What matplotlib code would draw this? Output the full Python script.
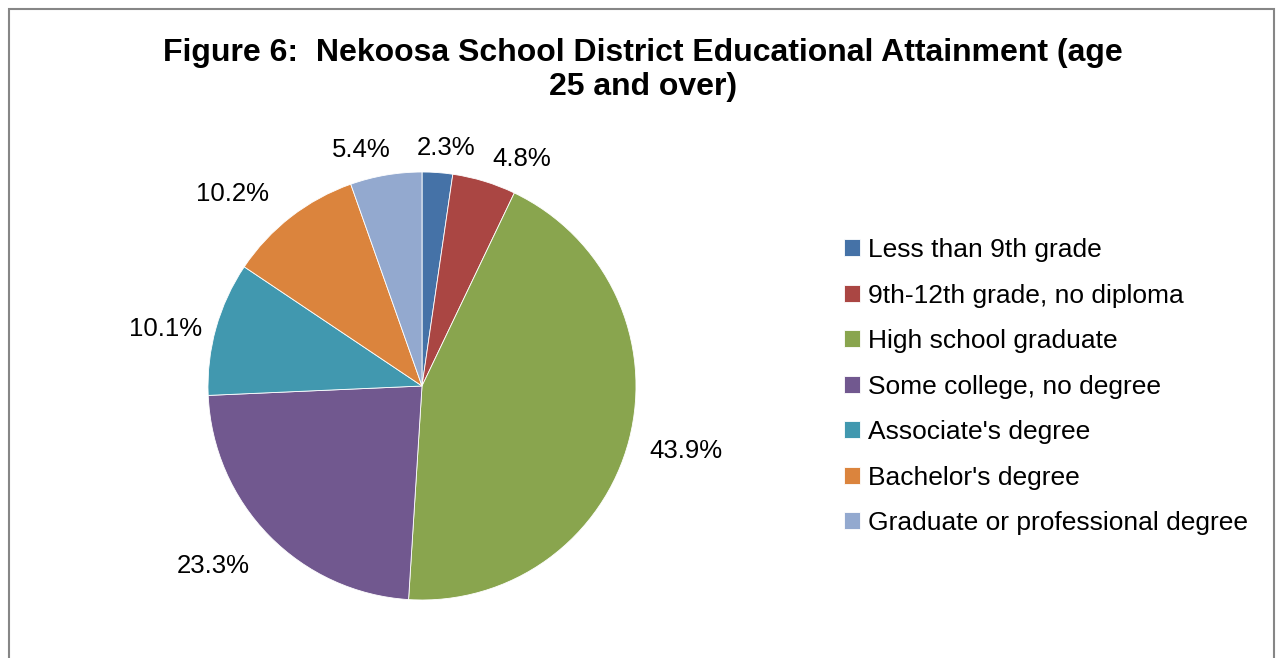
import numpy as np
import matplotlib
matplotlib.use("Agg")
import matplotlib.pyplot as plt
from matplotlib.patches import Rectangle

plt.rcParams['font.family'] = ['Liberation Sans', 'DejaVu Sans']

# Data
categories = ["Less than 9th grade", "9th-12th grade, no diploma", "High school graduate",
              "Some college, no degree", "Associate's degree", "Bachelor's degree",
              "Graduate or professional degree"]
shares = [2.3, 4.8, 43.9, 23.3, 10.1, 10.2, 5.4]
colors = ['#4572A7', '#AA4643', '#89A54E', '#71588F', '#4198AF', '#DB843D', '#93A9CF']
# how far out each label sits (in radii) and small angle nudges, Excel "best fit" style
label_dist = [1.13, 1.17, 1.27, 1.28, 1.23, 1.27, 1.15]
label_nudge = [-1.5, -6.5, 1.2, -4.0, 2.5, 6.5, 4.5]

W, H = 1276, 658
fig = plt.figure(figsize=(W / 100, H / 100), dpi=100)

# pie axes: centre (422, 386) px, radius 214 px
cx, cy, r = 422, 386, 214
ax = fig.add_axes([(cx - r) / W, (H - cy - r) / H, 2 * r / W, 2 * r / H])
wedges, _ = ax.pie(shares, colors=colors, startangle=90, counterclock=False,
                   wedgeprops=dict(edgecolor='white', linewidth=0.6))
ax.set_xlim(-1, 1)
ax.set_ylim(-1, 1)
ax.set_aspect('equal')

for w, v, d, nd in zip(wedges, shares, label_dist, label_nudge):
    ang = np.deg2rad((w.theta1 + w.theta2) / 2 + nd)
    ax.text(d * np.cos(ang), d * np.sin(ang), f"{v:.1f}%", ha='center', va='center_baseline',
            fontsize=18.5, color='black', clip_on=False)

fig.text(0.504, 1 - 70 / H, "Figure 6:  Nekoosa School District Educational Attainment (age\n25 and over)",
         ha='center', va='center', fontsize=23, fontweight='bold', linespacing=1.2)

leg = fig.legend(wedges, categories, loc='upper left', bbox_to_anchor=(844 / W, 1 - 238 / H),
                 frameon=False, fontsize=19, handlelength=0.6, handleheight=0.6,
                 handletextpad=0.3, labelspacing=0.815, borderaxespad=0, borderpad=0)

# chart border
fig.patches.append(Rectangle((9 / W, -0.05), (1274 - 9) / W, 1.05 - 9.5 / H,
                             transform=fig.transFigure, fill=False,
                             edgecolor='#868686', linewidth=1.5))

fig.savefig("out.png", dpi=100)
